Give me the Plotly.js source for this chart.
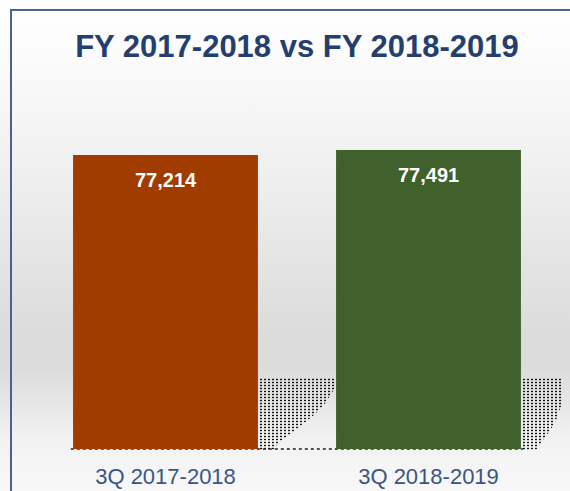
<!DOCTYPE html>
<html>
<head>
<meta charset="utf-8">
<script src="https://cdn.plot.ly/plotly-3.0.1.min.js"></script>
<style>
  html, body { margin: 0; padding: 0; }
  #wrap {
    position: relative; width: 570px; height: 491px; overflow: hidden;
    background: linear-gradient(to bottom, #ffffff 0px, #fbfbfb 60px, #ececec 200px, #dcdcdc 330px, #dcdcdc 370px, #f2f2f2 440px, #f8f8f8 491px);
  }
  #frame {
    position: absolute; left: 10px; top: 9px; width: 570px; height: 500px;
    border-top: 2px solid #4b6290; border-left: 2px solid #4b6290;
    pointer-events: none;
  }
  #chart { position: absolute; left: 0; top: 0; width: 570px; height: 491px; }
  .shadow {
    position: absolute; pointer-events: none;
    background-image: radial-gradient(circle, rgba(15,15,15,1) 0.7px, rgba(15,15,15,0) 1.2px);
    background-size: 4px 3px;
  }
</style>
</head>
<body>
<div id="wrap">
  <div id="chart"></div>
  <div id="frame"></div>
</div>
<script>
const categories = ["3Q 2017-2018", "3Q 2018-2019"];
const values = [77214, 77491];
const barColors = ["#a03c00", "#40602c"];
const titleText = "FY 2017-2018 vs FY 2018-2019";

const fmt = v => v.toLocaleString("en-US");
const FONT = "Liberation Sans, Arial, sans-serif";
const BARGAP = 0.297;

const trace = {
  type: "bar",
  x: categories,
  y: values,
  marker: { color: barColors, line: { width: 0 } },
  hoverinfo: "skip"
};

const annotations = categories.map((c, i) => ({
  x: c, y: values[i], xref: "x", yref: "y",
  text: "<b>" + fmt(values[i]) + "</b>",
  showarrow: false, yanchor: "middle", yshift: -25,
  font: { family: FONT, size: 20, color: "#ffffff" }
}));

const layout = {
  width: 570, height: 491,
  margin: { l: 34, r: 10, t: 60, b: 42 },
  paper_bgcolor: "rgba(0,0,0,0)",
  plot_bgcolor: "rgba(0,0,0,0)",
  title: {
    text: "<b>" + titleText + "</b>",
    x: 0.521, xanchor: "center", y: 0.905, yanchor: "middle", yref: "container",
    font: { family: FONT, size: 31, color: "#243f6e" }
  },
  bargap: BARGAP,
  showlegend: false,
  xaxis: {
    showgrid: false, zeroline: false, showline: false, ticks: "",
    tickfont: { family: FONT, size: 22, color: "#3a5585" },
    ticklabelstandoff: 12
  },
  yaxis: {
    range: [61000, 82453], showgrid: false, zeroline: false, showline: false,
    showticklabels: false, ticks: ""
  },
  shapes: [{
    type: "line", xref: "paper", yref: "paper", x0: 0.07, x1: 0.93, y0: 0, y1: 0,
    line: { color: "#222222", width: 1.5, dash: "dot" }, layer: "below"
  }],
  annotations: annotations
};

Plotly.newPlot("chart", [trace], layout, { staticPlot: true, displayModeBar: false }).then(gd => {
  // decorative dotted perspective shadows to the right of each bar
  const xa = gd._fullLayout.xaxis, ya = gd._fullLayout.yaxis;
  const band = xa._length / categories.length;
  const half = band * (1 - BARGAP) / 2;
  const baseY = ya._offset + ya._length;
  const wrap = document.getElementById("wrap");
  const shapes = [
    { w: 78, clip: "polygon(0 0, 100% 0, 97% 15%, 85% 35%, 72% 50%, 55% 65%, 40% 78%, 25% 90%, 18% 100%, 0 100%)" },
    { w: 40, clip: "polygon(0 0, 100% 0, 100% 35%, 88% 55%, 72% 72%, 50% 88%, 35% 100%, 0 100%)" }
  ];
  categories.forEach((c, i) => {
    const right = xa._offset + xa.l2p(i) + half;
    const d = document.createElement("div");
    d.className = "shadow";
    d.style.left = (right + 1) + "px";
    d.style.top = (baseY - 71) + "px";
    d.style.width = shapes[i].w + "px";
    d.style.height = "72px";
    d.style.clipPath = shapes[i].clip;
    wrap.insertBefore(d, document.getElementById("chart"));
  });
});
</script>
</body>
</html>
